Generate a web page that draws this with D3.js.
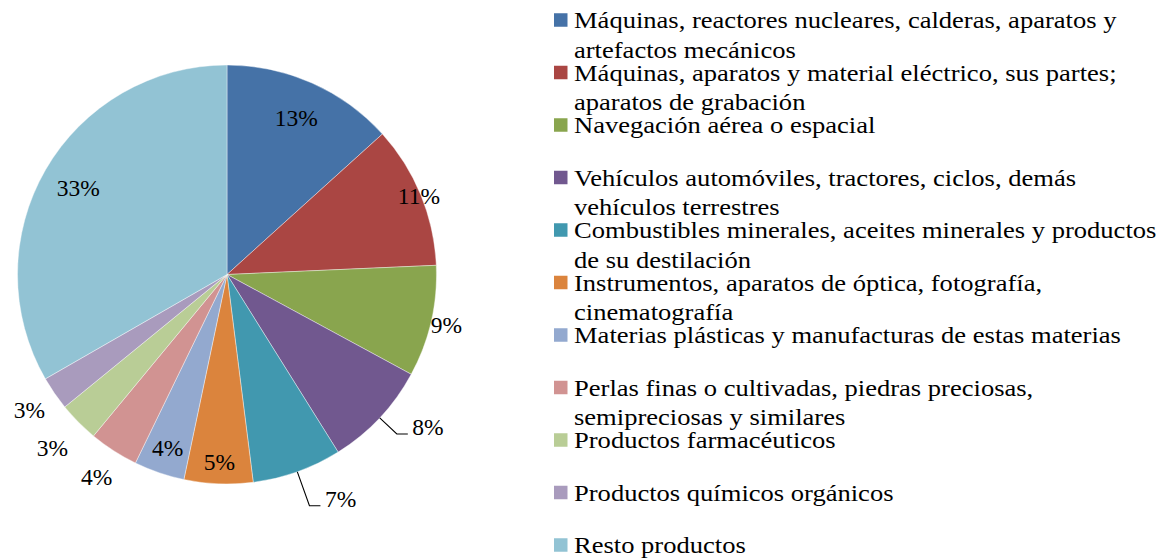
<!DOCTYPE html>
<html>
<head>
<script src="https://cdn.jsdelivr.net/npm/d3@7"></script>
</head>
<body style="margin:0">
<svg id="chart"></svg>
<script>
var w = 1175;
var h = 558;

// categories (legend text, "\n" = line break as in the original)
var categories = [
	"Máquinas, reactores nucleares, calderas, aparatos y\nartefactos mecánicos",
	"Máquinas, aparatos y material eléctrico, sus partes;\naparatos de grabación",
	"Navegación aérea o espacial",
	"Vehículos automóviles, tractores, ciclos, demás\nvehículos terrestres",
	"Combustibles minerales, aceites minerales y productos\nde su destilación",
	"Instrumentos, aparatos de óptica, fotografía,\ncinematografía",
	"Materias plásticas y manufacturas de estas materias",
	"Perlas finas o cultivadas, piedras preciosas,\nsemipreciosas y similares",
	"Productos farmacéuticos",
	"Productos químicos orgánicos",
	"Resto productos"
];

// share of each category (%)
var shares = [13.3, 11.0, 8.6, 8.2, 6.9, 5.3, 3.9, 3.8, 3.1, 2.6, 33.3];

var colors = ["#4572A7", "#AA4643", "#89A54E", "#71588F", "#4198AF", "#DB843D",
	"#93A9CF", "#D19392", "#B9CD96", "#A99BBD", "#92C3D4"];

// label radius (fraction of pie radius) and whether a leader line is drawn
var labelRadius = [0.815, 0.99, 1.075, 1.112, 1.172, 0.895, 0.875, 1.15, 1.175, 1.145, 0.82];
var leader = [false, false, false, true, true, false, false, false, false, false, false];

var cx = 227, cy = 274.5, r = 209.5;

var svg = d3.select("#chart")
	.attr("width", w)
	.attr("height", h)
	.style("display", "block");

var pie = d3.pie().sort(null).value(d => d);
var arcs = pie(shares);
var total = d3.sum(shares);
var fmt = d3.format(".0%");

var arc = d3.arc().innerRadius(0).outerRadius(r);

var g = svg.append("g").attr("transform", "translate(" + cx + "," + cy + ")");

g.selectAll(".slice")
	.data(arcs)
	.enter()
	.append("path")
	.attr("class", "slice")
	.attr("d", arc)
	.attr("fill", (d, i) => colors[i])
	.attr("stroke", "#fff")
	.attr("stroke-width", 0.4);

//point on circle of radius rr at the middle angle of the slice
function polar(d, rr) {
	var a = (d.startAngle + d.endAngle) / 2;
	return [Math.sin(a) * rr, -Math.cos(a) * rr];
}

arcs.forEach((d, i) => {
	var label = fmt(d.value / total);
	var t;
	if (leader[i]) {
		var p0 = polar(d, r);
		var p1 = polar(d, r * labelRadius[i]);
		var p2 = [p1[0] + 11, p1[1]];
		g.append("path")
			.attr("d", d3.line()([p0, p1, p2]))
			.attr("fill", "none")
			.attr("stroke", "#000")
			.attr("stroke-width", 1.1);
		t = g.append("text")
			.attr("x", p2[0] + 4.5)
			.attr("y", p2[1] + 1.5);
	} else {
		var p = polar(d, r * labelRadius[i]);
		t = g.append("text")
			.attr("x", p[0])
			.attr("y", p[1])
			.attr("dy", "0.33em")
			.attr("text-anchor", "middle");
	}
	t.attr("font-family", "'Liberation Serif'")
		.attr("font-size", 23.5)
		.text(label);
});

// legend
var legend = svg.selectAll(".legend")
	.data(categories)
	.enter()
	.append("g")
	.attr("class", "legend")
	.attr("transform", (d, i) => "translate(554," + (20 + i * 52.5) + ")");

legend.append("rect")
	.attr("x", 0)
	.attr("y", -6.75)
	.attr("width", 13.5)
	.attr("height", 13.5)
	.attr("fill", (d, i) => colors[i]);

// the original legend type is a bit wider than the labels
legend.append("text")
	.attr("transform", "translate(20,8.3) scale(1.155,1)")
	.attr("font-family", "'Liberation Serif'")
	.attr("font-size", 23)
	.each(function (d) {
		var lines = d.split("\n");
		d3.select(this).selectAll("tspan")
			.data(lines)
			.enter()
			.append("tspan")
			.attr("x", 0)
			.attr("dy", (l, k) => k === 0 ? 0 : 29.5)
			.text(l => l);
	});

// make sure the text has been laid out with the font before the shot
svg.selectAll("text").each(function () { this.getComputedTextLength(); });
</script>
</body>
</html>
